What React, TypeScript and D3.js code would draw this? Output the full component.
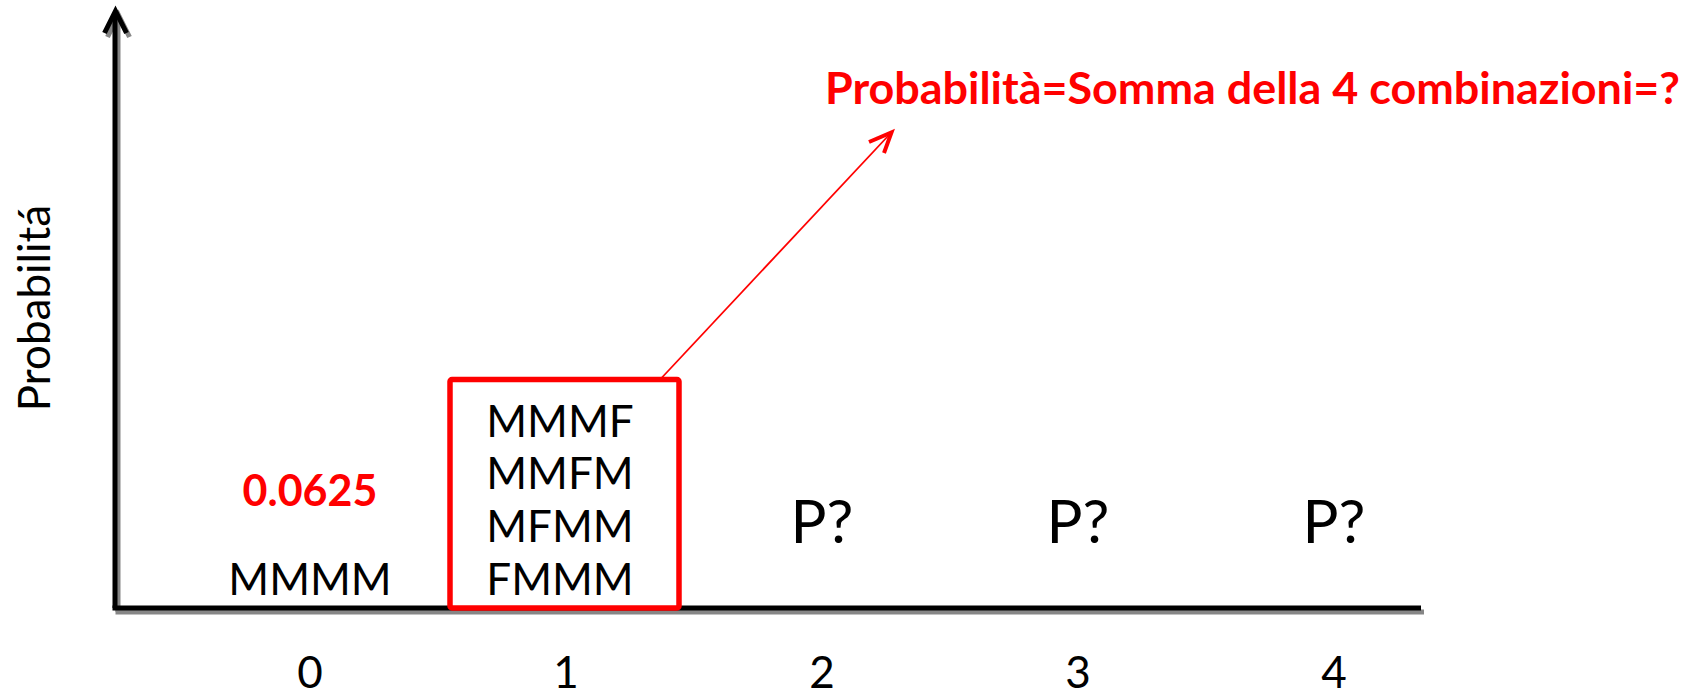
import React from 'react';
import * as d3 from 'd3';

const categories = ['0', '1', '2', '3', '4'];
const outcomes: string[][] = [['MMMM'], ['MMMF', 'MMFM', 'MFMM', 'FMMM'], [], [], []];
const probabilities: (string | null)[] = ['0.0625', null, 'P?', 'P?', 'P?'];
const highlighted = '1';
const yAxisTitle = 'Probabilitá';
const calloutText = 'Probabilità=Somma della 4 combinazioni=?';

const W = 1687;
const H = 689;
const FONT = 'Lato, Carlito, "Open Sans", sans-serif';

export default function App() {
  const x = d3.scalePoint<string>().domain(categories).range([310, 1334]);
  const baseY = 608;
  const lineGap = 52.8;
  const outcomeBaseline = 595;
  const axisLeft = 115;
  const axisRight = 1421;
  const axisTop = 11;

  const hx = x(highlighted)!;
  const box = { x0: hx - 116, x1: hx + 113, y0: 379.5, y1: 608 };

  const axes = (
    <>
      <line x1={axisLeft} y1={axisTop + 2} x2={axisLeft} y2={baseY} />
      <line x1={axisLeft - 2.5} y1={baseY} x2={axisRight} y2={baseY} />
      <polyline points={`${axisLeft - 10.5},33 ${axisLeft + 0.5},${axisTop} ${axisLeft + 11.5},33`} fill="none" />
    </>
  );

  return (
    <svg width={W} height={H} style={{ position: 'absolute', left: 0, top: 0, background: '#fff' }} fontFamily={FONT}>
      <rect x={0} y={0} width={W} height={H} fill="#fff" />
      {/* axis shadow */}
      <g transform="translate(3,4)" stroke="#7a7a7a" strokeWidth={5} opacity={0.9}>
        {axes}
      </g>
      <g stroke="#000" strokeWidth={5}>
        {axes}
      </g>

      {/* y axis title */}
      <text
        transform={`translate(50,308) rotate(-90)`}
        textAnchor="middle"
        fontSize={44}
        fill="#000"
      >
        {yAxisTitle}
      </text>

      {/* tick labels */}
      {categories.map((c) => (
        <text key={c} x={x(c)} y={688} textAnchor="middle" fontSize={44} fill="#000">
          {c}
        </text>
      ))}

      {/* highlight box */}
      <rect
        x={box.x0}
        y={box.y0}
        width={box.x1 - box.x0}
        height={box.y1 - box.y0}
        rx={2}
        fill="#fff"
        stroke="#ff0000"
        strokeWidth={5.5}
      />

      {/* outcomes */}
      {categories.map((c, i) =>
        outcomes[i].map((o, j) => (
          <text
            key={c + o}
            x={x(c)! - (c === highlighted ? 6 : 0)}
            y={outcomeBaseline - (outcomes[i].length - 1 - j) * lineGap}
            textAnchor="middle"
            fontSize={44}
            fill="#000"
          >
            {o}
          </text>
        ))
      )}

      {/* probabilities */}
      {categories.map((c, i) => {
        const p = probabilities[i];
        if (!p) return null;
        const isValue = p !== 'P?';
        return (
          <text
            key={'p' + c}
            x={x(c)}
            y={isValue ? 505.5 : 543}
            textAnchor="middle"
            fontSize={isValue ? 43 : 60}
            fontWeight={isValue ? 700 : 400}
            fill={isValue ? '#ff0000' : '#000'}
          >
            {p}
          </text>
        );
      })}

      {/* callout arrow */}
      <line x1={box.x1 - 17} y1={box.y0 - 2} x2={889} y2={135} stroke="#ff0000" strokeWidth={1.8} />
      <polyline points="869,142 891.5,132.5 884,153" fill="none" stroke="#ff0000" strokeWidth={4} />

      <text x={825} y={104} fontSize={44} fontWeight={700} fill="#ff0000" textLength={855} lengthAdjust="spacingAndGlyphs">
        {calloutText}
      </text>
    </svg>
  );
}
